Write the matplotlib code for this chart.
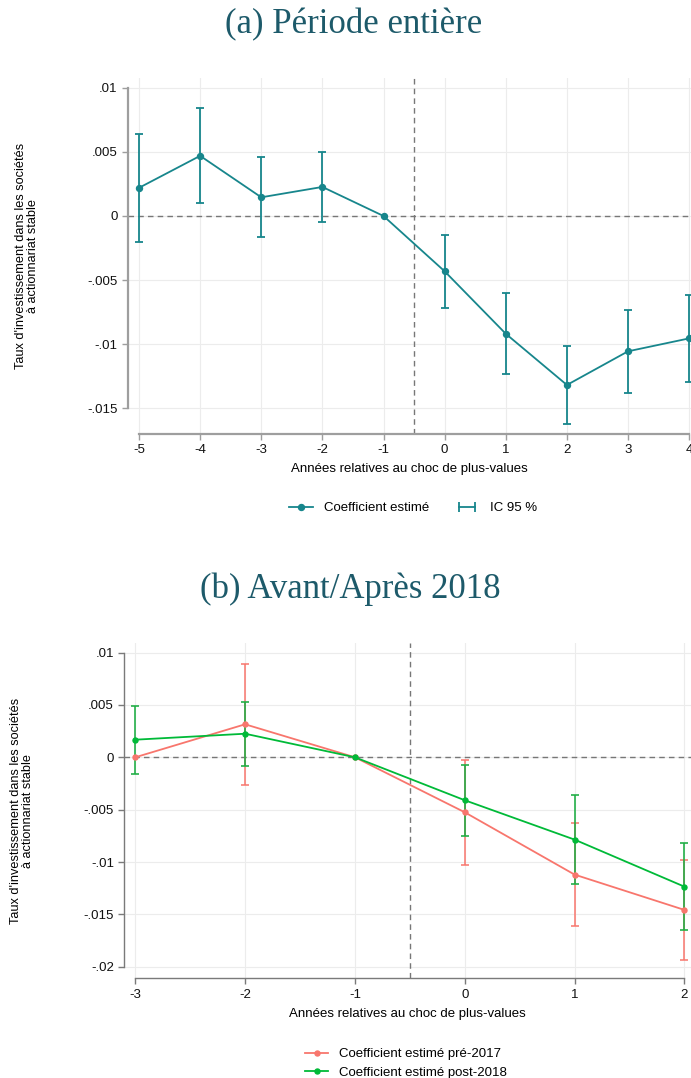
import numpy as np
import matplotlib
matplotlib.use("Agg")
import matplotlib.pyplot as plt
from matplotlib.lines import Line2D
from matplotlib.legend_handler import HandlerLine2D

plt.rcParams['font.family'] = ['Liberation Sans', 'DejaVu Sans']
plt.rcParams['axes.unicode_minus'] = False

# donnees (a) periode entiere
annees_a = [-5, -4, -3, -2, -1, 0, 1, 2, 3, 4]
coef_a = [0.0022, 0.0047, 0.00146, 0.00227, 0.0, -0.00432, -0.0092, -0.0132, -0.01057, -0.00956]
bas_a = [-0.0020, 0.00104, -0.00167, -0.00044, np.nan, -0.00716, -0.01232, -0.01625, -0.0138, -0.01297]
haut_a = [0.0064, 0.0084, 0.0046, 0.00503, np.nan, -0.00148, -0.0060, -0.01018, -0.00732, -0.00615]
yticks_a = [0.01, 0.005, 0, -0.005, -0.01, -0.015]
ylabels_a = ['.01', '.005', '0', '-.005', '-.01', '-.015']

# donnees (b) avant/apres 2018
annees_b = [-3, -2, -1, 0, 1, 2]
coef_pre = [0.0, 0.00315, 0.0, -0.00525, -0.0112, -0.01457]
bas_pre = [np.nan, -0.00264, np.nan, -0.01028, -0.0161, -0.01937]
haut_pre = [np.nan, 0.00893, np.nan, -0.00026, -0.00627, -0.0098]
coef_post = [0.00168, 0.00225, 0.0, -0.0041, -0.00786, -0.01235]
bas_post = [-0.0016, -0.00083, np.nan, -0.0075, -0.01212, -0.0165]
haut_post = [0.0049, 0.0053, np.nan, -0.00073, -0.0036, -0.00815]
yticks_b = [0.01, 0.005, 0, -0.005, -0.01, -0.015, -0.02]
ylabels_b = ['.01', '.005', '0', '-.005', '-.01', '-.015', '-.02']

teal = '#17868c'
rouge = '#f8766d'
vert = '#00ba38'
titre_col = '#1d5a6a'
ylab = "Taux d'investissement dans les sociétés\nà actionnariat stable"
xlab = "Années relatives au choc de plus-values"
fs = 9.5

W, H = 691, 1078
fig = plt.figure(figsize=(W / 100, H / 100), dpi=100)


def px_axes(l, t, r, b):
    return fig.add_axes([l / W, 1 - b / H, (r - l) / W, (b - t) / H])


def ci(ax, x, c, lo, hi, col, alpha=1.0, lw=1.3):
    x = np.array(x, float)
    c = np.array(c, float)
    lo = np.array(lo, float)
    hi = np.array(hi, float)
    m = ~np.isnan(lo)
    ax.errorbar(x[m], c[m], yerr=[c[m] - lo[m], hi[m] - c[m]], fmt='none',
                ecolor=col, elinewidth=lw, capsize=3, capthick=lw, alpha=alpha, zorder=3)


def style(ax, xt, yt, yl, spcol, splw):
    ax.set_xticks(xt)
    ax.set_yticks(yt)
    ax.set_yticklabels(yl)
    ax.grid(True, color='#ececec', lw=0.8)
    ax.set_axisbelow(True)
    for s in ['top', 'right']:
        ax.spines[s].set_visible(False)
    for s in ['left', 'bottom']:
        ax.spines[s].set_color(spcol)
        ax.spines[s].set_linewidth(splw)
    ax.spines['left'].set_bounds(min(yt), max(yt))
    ax.spines['bottom'].set_bounds(min(xt), max(xt))
    ax.tick_params(colors=spcol, labelcolor='#111111', labelsize=fs, length=4, width=1)
    ax.axhline(0, color='#777777', lw=1, ls=(0, (4, 3)), zorder=1)
    ax.axvline(-0.5, color='#777777', lw=1, ls=(0, (4, 3)), zorder=1)
    ax.set_xlabel(xlab, fontsize=fs, labelpad=5)
    ax.set_ylabel(ylab, fontsize=fs - 0.3, linespacing=1.0)


# (a)
ax1 = px_axes(128, 78, 691, 434)
ax1.plot(annees_a, coef_a, color=teal, lw=1.3, marker='o', ms=4.3, zorder=4)
ci(ax1, annees_a, coef_a, bas_a, haut_a, teal)
ax1.set_xlim(-5.18, 4.03)
ax1.set_ylim(-0.01703, 0.01078)
style(ax1, annees_a, yticks_a, ylabels_a, '#9e9e9e', 1.6)
ax1.yaxis.set_label_coords(-0.158, 0.5)

h1 = Line2D([], [], color=teal, lw=1.3, marker='o', ms=4.3)
h2 = Line2D([], [], color=teal, lw=1.3, marker='|', ms=7, mew=1.3)
fig.legend([h1, h2], ['Coefficient estimé', 'IC 95 %'], loc='center',
           bbox_to_anchor=(413 / W, 1 - 508 / H), ncol=2, frameon=False, fontsize=fs,
           handlelength=1.8, handletextpad=0.8, columnspacing=2.0,
           handler_map={h2: HandlerLine2D(numpoints=2), h1: HandlerLine2D(numpoints=1)})

fig.text(354 / W, 1 - 25 / H, '(a) Période entière', ha='center', va='center',
         fontsize=25, family='Liberation Serif', color=titre_col)

# (b)
ax2 = px_axes(124.3, 642.7, 691, 978.3)
ax2.plot(annees_b, coef_pre, color=rouge, lw=1.3, marker='o', ms=3.6, zorder=4)
ci(ax2, annees_b, coef_pre, bas_pre, haut_pre, rouge, alpha=0.85)
ax2.plot(annees_b, coef_post, color=vert, lw=1.3, marker='o', ms=3.6, zorder=5)
ci(ax2, annees_b, coef_post, bas_post, haut_post, '#1fae45', alpha=0.9)
ax2.set_xlim(-3.1, 2.06)
ax2.set_ylim(-0.0211, 0.01094)
style(ax2, annees_b, yticks_b, ylabels_b, '#7a7a7a', 1.0)
ax2.yaxis.set_label_coords(-0.159, 0.5)

g1 = Line2D([], [], color=rouge, lw=1.3, marker='o', ms=3.6)
g2 = Line2D([], [], color=vert, lw=1.3, marker='o', ms=3.6)
fig.legend([g1, g2], ['Coefficient estimé pré-2017', 'Coefficient estimé post-2018'],
           loc='upper left', bbox_to_anchor=(305 / W, 1 - 1048 / H), frameon=False,
           fontsize=fs, handlelength=1.75, handletextpad=0.8, labelspacing=0.5,
           borderpad=0, borderaxespad=0)

fig.text(350 / W, 1 - 589 / H, '(b) Avant/Après 2018', ha='center', va='center',
         fontsize=25, family='Liberation Serif', color=titre_col)

fig.savefig('out.png', dpi=100)
